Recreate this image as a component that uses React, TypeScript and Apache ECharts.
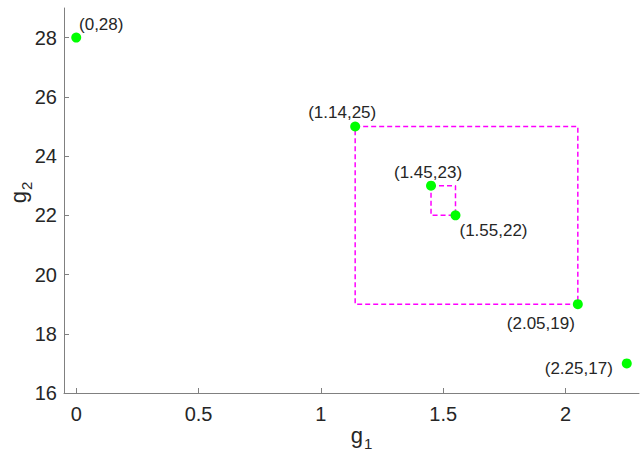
import React, { useEffect, useRef } from "react";
import * as echarts from "echarts";

const g1Values = [0, 1.14, 1.45, 1.55, 2.05, 2.25];
const g2Values = [28, 25, 23, 22, 19, 17];
const xTicks = [0, 0.5, 1, 1.5, 2];
const yTicks = [16, 18, 20, 22, 24, 26, 28];
// label offsets (px) relative to each point
const labelOffsets: [number, number][] = [
  [25, -13],
  [-13, -14],
  [-3, -13],
  [38, 15],
  [-37, 19],
  [-48, 5],
];

const rectOf = (a: number, b: number) => {
  const x1 = g1Values[a], y1 = g2Values[a], x2 = g1Values[b], y2 = g2Values[b];
  return [[x1, y1], [x2, y1], [x2, y2], [x1, y2], [x1, y1]];
};

export default function App() {
  const ref = useRef<HTMLDivElement>(null);
  useEffect(() => {
    if (!ref.current) return;
    const chart = echarts.init(ref.current, null, { renderer: "svg" });
    const font = "'Liberation Sans', Arial, Helvetica, sans-serif";
    const axisCol = "#808080";
    const textCol = "#262626";
    const dashed = (data: number[][]) => ({
      type: "line",
      data,
      showSymbol: false,
      symbol: "none",
      lineStyle: { color: "#ff00ff", width: 1.5, type: [5, 3] },
      z: 2,
    });
    const nameRich = {
      g: { fontSize: 22, fontFamily: font, color: textCol, lineHeight: 26 },
      s: { fontSize: 15, fontFamily: font, color: textCol, padding: [16, 0, 0, 1], lineHeight: 26 },
    };
    chart.setOption({
      animation: false,
      backgroundColor: "#ffffff",
      textStyle: { fontFamily: font },
      grid: { left: 64, right: 2, top: 8, bottom: 60, containLabel: false, outerBoundsMode: "none" },
      xAxis: {
        type: "value",
        min: -0.05,
        max: 2.3,
        splitLine: { show: false },
        axisLine: { show: true, onZero: false, lineStyle: { color: axisCol, width: 1 } },
        axisTick: { show: true, inside: true, length: 5, customValues: xTicks, lineStyle: { color: axisCol } },
        axisLabel: {
          customValues: xTicks,
          color: textCol,
          fontSize: 20,
          fontFamily: font,
          margin: 11,
          formatter: (v: number) => String(v),
        },
        name: "{g|g}{s|1}",
        nameLocation: "middle",
        nameGap: 29,
        nameMoveOverlap: false,
        nameTextStyle: { rich: nameRich, padding: [0, 0, 0, 20] },
      },
      yAxis: {
        type: "value",
        min: 16,
        max: 29,
        splitLine: { show: false },
        axisLine: { show: true, onZero: false, lineStyle: { color: axisCol, width: 1 } },
        axisTick: { show: true, inside: true, length: 5, customValues: yTicks, lineStyle: { color: axisCol } },
        axisLabel: {
          customValues: yTicks,
          color: textCol,
          fontSize: 20,
          fontFamily: font,
          margin: 7,
          formatter: (v: number) => String(v),
        },
        name: "{g|g}{s|2}",
        nameLocation: "middle",
        nameRotate: 90,
        nameGap: 33,
        nameMoveOverlap: false,
        nameTextStyle: { rich: nameRich, padding: [0, 0, 0, 16] },
      },
      series: [
        dashed(rectOf(1, 4)),
        dashed(rectOf(2, 3)),
        {
          type: "scatter",
          symbol: "circle",
          symbolSize: 10,
          itemStyle: { color: "#00ff00", opacity: 1 },
          z: 5,
          data: g1Values.map((x, i) => ({
            value: [x, g2Values[i]],
            label: {
              show: true,
              position: "inside",
              offset: labelOffsets[i],
              formatter: `(${x},${g2Values[i]})`,
              color: textCol,
              fontSize: 17,
              fontFamily: font,
            },
          })),
        },
      ],
    });
    return () => chart.dispose();
  }, []);
  return <div ref={ref} style={{ width: 641, height: 453, position: "absolute", left: 0, top: 0 }} />;
}
